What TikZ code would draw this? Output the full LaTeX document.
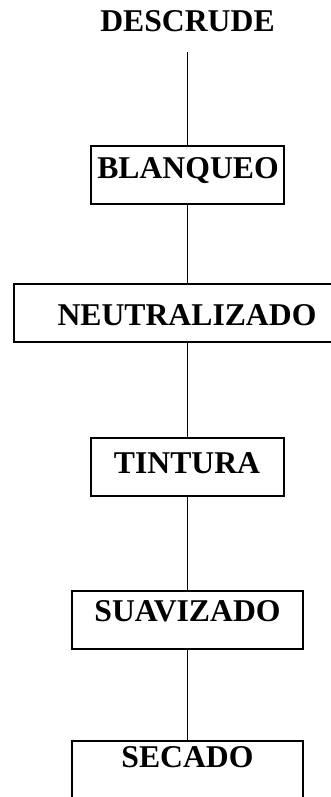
\documentclass[tikz,border=0pt]{standalone}
\usepackage{fontspec}
\setmainfont{Liberation Serif}
\begin{document}
\begin{tikzpicture}[x=1pt,y=-1pt,
  box/.style={draw,line width=1.1pt,inner sep=0pt,minimum height=58pt},
  lbl/.style={anchor=base,inner sep=0pt,font=\fontsize{31.7}{38}\selectfont\bfseries},
  conn/.style={line width=1pt}]
\useasboundingbox (0,0) rectangle (331,797);
% boxes
\node[box,minimum width=193pt] (b1) at (187.5,175) {};
\node[box,minimum width=320pt] (b2) at (174,313) {};
\node[box,minimum width=193pt] (b3) at (187.5,467) {};
\node[box,minimum width=231pt] (b4) at (187.5,620) {};
\node[box,minimum width=231pt] (b5) at (187.5,770) {};
% texts
\node[lbl] (t0) at (187.5,32) {DESCRUDE};
\node[lbl] (t1) at (188,178) {BLANQUEO};
\node[lbl] (t2) at (187,325) {NEUTRALIZADO};
\node[lbl] (t3) at (187,473) {TINTURA};
\node[lbl] (t4) at (187.5,621) {SUAVIZADO};
\node[lbl] (t5) at (187.5,767) {SECADO};
% connectors
\coordinate (c0) at (187,52);
\draw[conn] (c0) -- (c0 |- b1.north);
\draw[conn] (c0 |- b1.south) -- (c0 |- b2.north);
\draw[conn] (c0 |- b2.south) -- (c0 |- b3.north);
\draw[conn] (c0 |- b3.south) -- (c0 |- b4.north);
\draw[conn] (c0 |- b4.south) -- (c0 |- b5.north);
\end{tikzpicture}
\end{document}
